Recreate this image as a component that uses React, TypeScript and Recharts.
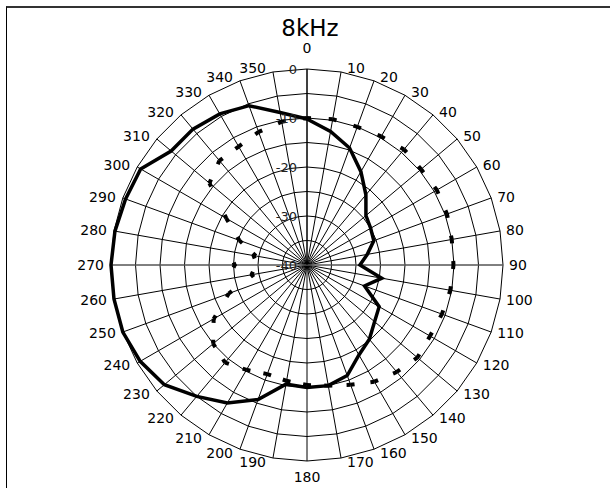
import React from "react";
import { RadarChart, Radar, PolarGrid, PolarAngleAxis, PolarRadiusAxis } from "recharts";

// angle of measurement, degrees (0 = front, clockwise)
const angles = [
  0, 10, 20, 30, 40, 50, 60, 70, 80, 90, 100, 110, 120, 130, 140, 150, 160, 170,
  180, 190, 200, 210, 220, 230, 240, 250, 260, 270, 280, 290, 300, 310, 320, 330, 340, 350,
];

// solid trace, dB
const solidDb = [
  -10.2, -12.3, -14.6, -18, -21.3, -24.3, -25, -25.5, -27.5, -29.2, -24.5, -27.5, -23, -22, -20.2, -18.8, -16, -15,
  -15, -15.3, -10.8, -7.5, -5, -2, -0.7, 0, 0, 0, -0.2, -0.6, -0.8, -3.8, -3.8, -4.4, -5.4, -8.4,
];

// dashed trace, dB
const dashedDb = [
  -10, -9.8, -10, -9.7, -9.2, -9.6, -9.4, -9.6, -10, -10.1, -10.3, -10.7, -11, -10.6, -11.5, -12.5, -14, -15,
  -15.5, -16, -16.3, -15.3, -14, -15, -18, -23, -29, -24.8, -29.4, -25.3, -21, -14, -12.2, -12.1, -11.1, -10.3,
];

const radialLabels = [-40, -30, -20, -10, 0];

const data = angles.map((a, i) => ({ angle: a, solid: solidDb[i], dashed: dashedDb[i] }));

const FONT = "'DejaVu Sans', Arial, sans-serif";

const AngleTick = (props: any) => {
  const { x, y, cx, cy, payload } = props;
  const dx = x - cx;
  const dy = y - cy;
  const r = Math.hypot(dx, dy);
  const R = props.radius ?? r - 8;
  const s = dx / r;
  const c = -dy / r;
  const rx = cx + R * s;
  const ry = cy - R * c;
  let tx = rx;
  let ty = ry - 4 * c;
  let anchor: "start" | "middle" | "end" = "middle";
  if (Math.abs(s) < 0.01) {
    ty = c > 0 ? ry - 21 : ry + 16;
  } else if (s > 0) {
    anchor = "start";
    tx = rx + 6;
  } else {
    anchor = "end";
    tx = rx - 7;
  }
  return (
    <text x={tx} y={ty} textAnchor={anchor} dominantBaseline="central" fontFamily={FONT} fontSize={14} fill="#000">
      {payload.value}
    </text>
  );
};

const RadiusTick = (props: any) => {
  const { x, y, payload } = props;
  if (!radialLabels.includes(payload.value)) return <g />;
  return (
    <text x={x - 10} y={y} textAnchor="end" dominantBaseline="central" fontFamily={FONT} fontSize={13} fill="#222">
      {payload.value}
    </text>
  );
};

// dashed line drawn segment by segment so a dash sits on every vertex
const DashedShape = (props: any) => {
  const pts = props.points || [];
  return (
    <g>
      {pts.map((a: any, i: number) => {
        const b = pts[(i + 1) % pts.length];
        const len = Math.hypot(b.x - a.x, b.y - a.y);
        const d = Math.min(4, len / 2);
        return (
          <line
            key={i}
            x1={a.x}
            y1={a.y}
            x2={b.x}
            y2={b.y}
            stroke="#000"
            strokeWidth={4}
            strokeDasharray={`${d} ${Math.max(len - 2 * d, 0)} ${d}`}
          />
        );
      })}
    </g>
  );
};

export default function App() {
  return (
    <div style={{ position: "absolute", left: 0, top: 0, width: 610, height: 488, background: "#fff" }}>
      <div
        style={{
          position: "absolute",
          left: 6,
          top: 6,
          width: 604,
          height: 482,
          borderTop: "2px solid #333",
          borderLeft: "1.5px solid #000",
        }}
      />
      <div
        style={{
          position: "absolute",
          left: 0,
          top: 17,
          width: 620,
          textAlign: "center",
          fontFamily: FONT,
          fontSize: 23,
          lineHeight: "23px",
        }}
      >
        8kHz
      </div>
      <div style={{ position: "absolute", left: 0, top: 0 }}>
        <RadarChart
          width={610}
          height={488}
          data={data}
          cx={307}
          cy={265}
          outerRadius={196}
          margin={{ top: 0, right: 0, bottom: 0, left: 0 }}
        >
          <PolarGrid gridType="polygon" stroke="#000" strokeOpacity={1} />
          <PolarGrid gridType="polygon" stroke="#808080" strokeOpacity={1} polarAngles={[0, 180]} polarRadius={[]} />
          <PolarAngleAxis dataKey="angle" axisLine={false} tickLine={false} tick={<AngleTick />} />
          <PolarRadiusAxis
            angle={90}
            type="number"
            domain={[-40, 0]}
            tickCount={9}
            axisLine={{ stroke: "#000" }}
            tickLine={false}
            tick={<RadiusTick />}
          />
          <Radar dataKey="dashed" fill="none" stroke="#000" shape={<DashedShape />} dot={false} isAnimationActive={false} />
          <Radar dataKey="solid" fill="none" fillOpacity={0} stroke="#000" strokeWidth={3.5} dot={false} isAnimationActive={false} />
        </RadarChart>
      </div>
    </div>
  );
}
